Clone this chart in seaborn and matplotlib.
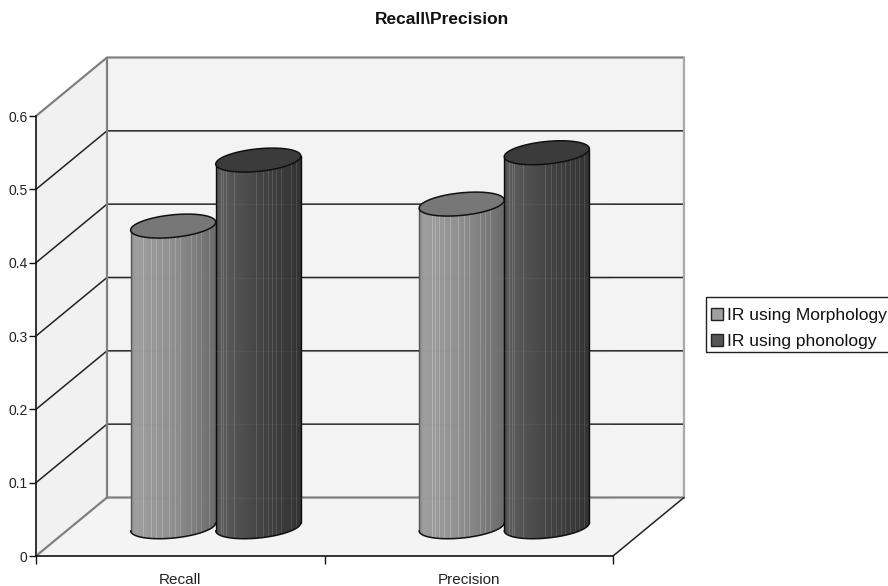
import numpy as np
import pandas as pd
import matplotlib
matplotlib.use("Agg")
import matplotlib.pyplot as plt
from matplotlib.patches import Polygon, Rectangle
from matplotlib.transforms import Affine2D
import seaborn as sns

categories = ["Recall", "Precision"]
series_names = ["IR using Morphology", "IR using phonology"]
morphology = [0.41, 0.44]
phonology = [0.50, 0.51]
y_ticks = [0, 0.1, 0.2, 0.3, 0.4, 0.5, 0.6]
y_tick_labels = ["0", "0.1", "0.2", "0.3", "0.4", "0.5", "0.6"]

sns.set_style("white")
plt.rcParams["font.family"] = ["Liberation Sans", "DejaVu Sans"]

W, H = 888, 586
fig = plt.figure(figsize=(W / 100, H / 100), dpi=100, facecolor="white")
L, R, T, B = 36.0, 613.0, 116.0, 556.0
ax = fig.add_axes([L / W, 1 - B / H, (R - L) / W, (B - T) / H])
ax.patch.set_visible(False)

df = pd.DataFrame({
    "category": categories * 2,
    "value": morphology + phonology,
    "series": [series_names[0]] * 2 + [series_names[1]] * 2,
})
sns.barplot(data=df, x="category", y="value", hue="series", order=categories,
            hue_order=series_names, palette=["#a0a0a0", "#555555"], width=0.59,
            saturation=1, edgecolor="#222222", linewidth=1, zorder=3, ax=ax, errorbar=None)
bars = [p for p in ax.patches if isinstance(p, Rectangle) and p.get_height() > 0.1]

ax.set_xlim(-0.5, 1.5)
ax.set_ylim(0, 0.6)
ax.set_xlabel("")
ax.set_ylabel("")

# depth of the pseudo-3D box, in data units
px_x = 1.0 / ((R - L) / 2)
px_y = 0.6 / (B - T)
dx = 71 * px_x
dy = 58.5 * px_y
x0, x1, y0, y1 = -0.5, 1.5, 0.0, 0.6

wall = dict(clip_on=False, linewidth=0)
ax.add_patch(Polygon([(x0 + dx, y0 + dy), (x1 + dx, y0 + dy), (x1 + dx, y1 + dy), (x0 + dx, y1 + dy)],
                     facecolor="#f3f3f3", zorder=0, **wall))
ax.add_patch(Polygon([(x0, y0), (x0 + dx, y0 + dy), (x0 + dx, y1 + dy), (x0, y1)],
                     facecolor="#f1f1f1", zorder=0, **wall))
ax.add_patch(Polygon([(x0, y0), (x1, y0), (x1 + dx, y0 + dy), (x0 + dx, y0 + dy)],
                     facecolor="#f4f4f4", zorder=0, **wall))

for v in y_ticks:
    c = "#808080" if v in (0, 0.6) else "#222222"
    lw = 1.6 if v in (0, 0.6) else 1.1
    ax.plot([x0, x0 + dx, x1 + dx], [v, v + dy, v + dy], color=c, lw=lw, clip_on=False, zorder=1)
ax.plot([x0 + dx, x0 + dx], [y0 + dy, y1 + dy], color="#808080", lw=1.6, clip_on=False, zorder=1)
ax.plot([x1 + dx, x1 + dx], [y0 + dy, y1 + dy], color="#a8a8a8", lw=1.6, clip_on=False, zorder=1)
ax.plot([x1, x1 + dx], [y0, y0 + dy], color="#222222", lw=1.1, clip_on=False, zorder=1)

# cylinders built on the seaborn bars
profiles = [
    dict(pos=[0, 0.05, 0.5, 1], val=[0.56, 0.62, 0.56, 0.42], lid="#777777", side="#555555",
         lines=[.15, .19, .24, .30, .37, .46, .53, .59, .72, .78, .84, .93]),
    dict(pos=[0, 0.05, 0.5, 1], val=[0.30, 0.36, 0.27, 0.20], lid="#3b3b3b", side="#0a0a0a",
         lines=[.06, .09, .12, .22, .48, .56, .62, .67, .72, .78, .84, .89, .95]),
]
kx, ky = 4 * px_y, 11.3 * px_y


def ellipse(cx, cy, a, t):
    return np.column_stack([cx + a * np.cos(t), cy + ky * np.sin(t) + kx * np.cos(t)])


shift = Affine2D().translate(dx / 2, dy / 2) + ax.transData
for p in sorted(bars, key=lambda b: b.get_x()):
    idx = 0 if p.get_facecolor()[0] > 0.5 else 1
    prof = profiles[idx]
    a = p.get_width() / 2
    cx = p.get_x() + a + dx / 2
    base = dy / 2
    height = p.get_height()
    top = height + dy / 2
    # seaborn bar stays inside the cylinder body
    p.set_transform(shift)
    p.set_linewidth(0)
    p.set_y(kx)
    p.set_height(height - 2 * kx)
    z = 3 + 0.1 * (2 * (p.get_x() + 0.5) + idx)
    low = ellipse(cx, base, a, np.linspace(np.pi, 2 * np.pi, 60))
    body = np.vstack([low, ellipse(cx, top, a, np.array([0.0, np.pi]))])
    body_patch = Polygon(body, closed=True, transform=ax.transData, facecolor="none", edgecolor="none")
    ax.add_patch(body_patch)
    frac = np.linspace(0, 1, 101)
    shade = np.interp(frac, prof["pos"], prof["val"])
    for f in prof["lines"]:
        shade[np.argmin(np.abs(frac - f))] += 0.09
    edges = np.linspace(cx - a, cx + a, 102)
    ys = np.array([0, top + 0.03])
    mesh = ax.pcolormesh(edges, ys, shade[None, :], cmap="gray", vmin=0, vmax=1,
                         zorder=z, shading="flat")
    mesh.set_clip_path(body_patch)
    for sgn, b_y, t_y in ((-1, low[0, 1], top - kx), (1, low[-1, 1], top + kx)):
        ax.plot([cx + sgn * a] * 2, [b_y, t_y], color=prof["side"], lw=1.0, zorder=z + 0.005, clip_on=False)
    ax.plot(low[:, 0], low[:, 1], color="#111111", lw=1.1, zorder=z + 0.01, clip_on=False)
    lid = ellipse(cx, top, a, np.linspace(0, 2 * np.pi, 90))
    ax.add_patch(Polygon(lid, closed=True, facecolor=prof["lid"], edgecolor="#111111",
                         lw=1.1, zorder=z + 0.02, clip_on=False))

ax.set_xlim(-0.5, 1.5)
ax.set_ylim(0, 0.6)

# faint see-through of the wall lines
for v in y_ticks[:-1]:
    ax.plot([x0 + dx, x1 + dx], [v + dy, v + dy], color="#888888", lw=1, alpha=0.10, zorder=5)

sns.despine(ax=ax, top=True, right=True)
for s in ("left", "bottom"):
    ax.spines[s].set_color("#111111")
    ax.spines[s].set_linewidth(1.2)
    ax.spines[s].set_zorder(2)

ax.set_yticks(y_ticks, labels=y_tick_labels)
ax.tick_params(axis="y", left=True, length=5, width=1, color="#111111", pad=1, labelsize=10, labelcolor="#222222")
ax.set_xticks([-0.5, 0.5, 1.5], labels=["", "", ""])
ax.set_xticks([0, 1], labels=categories, minor=True)
ax.tick_params(axis="x", which="major", bottom=True, length=6, width=1, color="#111111")
ax.tick_params(axis="x", which="minor", bottom=False, length=0, pad=12.5, labelsize=11, labelcolor="#222222")

handles, labels = ax.get_legend_handles_labels()
fig.add_artist(Rectangle((705.5 / W, 1 - 351.7 / H), 190 / W, 55.2 / H, transform=fig.transFigure,
                         facecolor="white", edgecolor="#222222", linewidth=1, zorder=-1))
leg = ax.legend(handles, labels, loc="upper left",
                bbox_to_anchor=(711 / W, 1 - 307.5 / H), bbox_transform=fig.transFigure,
                frameon=False, fontsize=12.5, borderaxespad=0, borderpad=0, handlelength=0.7,
                handleheight=0.7, handletextpad=0.22, labelspacing=0.66, labelcolor="#111111")
leg.set_clip_on(False)
leg.set_zorder(20)

fig.text(442 / W, 1 - 19 / H, "Recall\\Precision", ha="center", va="center",
         fontsize=12.5, fontweight="bold", color="#111111")

fig.savefig("out.png", dpi=100, facecolor="white")
